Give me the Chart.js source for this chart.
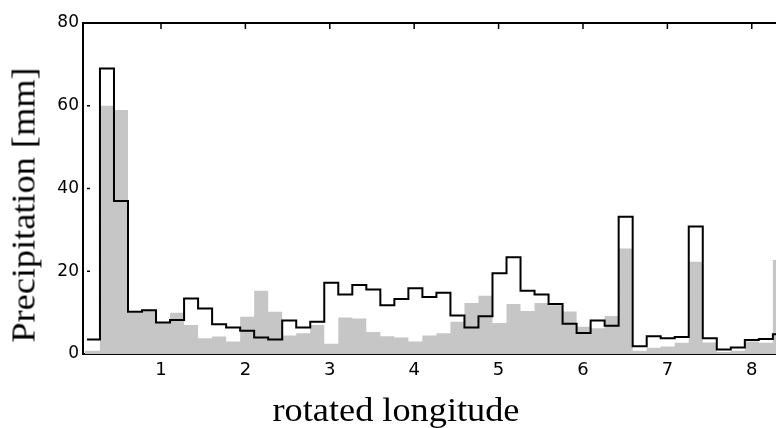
<!DOCTYPE html>
<html><head><meta charset="utf-8">
<script src="https://cdn.jsdelivr.net/npm/chart.js@4.4.1/dist/chart.umd.min.js"></script>
<style>
html,body{margin:0;padding:0;background:#fff;overflow:hidden;}
#wrap{position:relative;width:776px;height:428px;}
#c{position:absolute;left:0;top:0;}
.ttl{position:absolute;font-family:"Liberation Serif","Times New Roman",serif;font-size:33px;line-height:1;white-space:nowrap;color:#000;}
</style></head><body>
<div id="wrap">
<canvas id="c" width="776" height="428"></canvas>
<div class="ttl" id="xt" style="left:396px;top:394px;transform:translateX(-50%) scaleX(1.1)">rotated longitude</div>
<div class="ttl" id="yt" style="left:24px;top:205px;transform:translate(-50%,-50%) rotate(-90deg) scaleX(1.1)">Precipitation [mm]</div>
</div>
<script>
// x position (rotated longitude) of the left edge of the first full bin and bin width
const binStart = 0.277;
const binWidth = 0.1661;
// short leading bin before the first full bin
const blackLeadX = 0.123, blackLead = 3.5;
const grayLeadX = 0.100, grayLead = 0.8;

// black step line values per bin [mm]
const blackValues = [69, 37, 10.2, 10.6, 7.6, 8.2, 13.4, 11.0, 7.2, 6.4,
  5.6, 4.0, 3.5, 8.1, 6.4, 7.8, 17.2, 14.4, 16.7, 15.6,
  11.8, 13.3, 15.9, 13.8, 14.8, 9.3, 6.4, 9.1, 19.5, 23.4,
  15.3, 14.4, 12.1, 7.3, 5.1, 8.1, 6.8, 33.2, 1.9, 4.3,
  3.8, 4.1, 30.8, 3.8, 1.1, 1.6, 3.4, 3.6, 4.8];

// gray shaded values per bin [mm]
const grayValues = [60, 59, 10.0, 10.5, 7.5, 10.0, 7.0, 3.8, 4.2, 3.0,
  9.0, 15.3, 10.2, 4.5, 5.0, 7.0, 2.5, 8.8, 8.6, 5.3,
  4.3, 4.0, 3.0, 4.5, 5.0, 7.8, 12.3, 14.1, 7.5, 12.1,
  10.4, 12.3, 11.8, 10.3, 6.6, 6.2, 9.2, 25.5, 0.8, 1.5,
  1.8, 2.7, 22.3, 2.8, 0.5, 0.8, 3.0, 2.7, 22.7];

const xTicks = [1, 2, 3, 4, 5, 6, 7, 8];
const yTicks = [0, 20, 40, 60, 80];

function stepPoints(leadX, lead, values) {
  const pts = [{x: leadX, y: lead}];
  values.forEach((v, i) => pts.push({x: binStart + i * binWidth, y: v}));
  pts.push({x: binStart + values.length * binWidth, y: values[values.length - 1]});
  return pts;
}

const framePlugin = {
  id: 'frame',
  afterDatasetsDraw(chart) {
    const {ctx, chartArea: a, scales} = chart;
    ctx.save();
    ctx.strokeStyle = '#000';
    ctx.lineWidth = 2;
    ctx.beginPath();
    ctx.moveTo(a.left - 1, a.top);
    ctx.lineTo(a.right + 2, a.top);
    ctx.stroke();
    ctx.lineWidth = 1.5;
    xTicks.forEach(t => {
      const px = scales.x.getPixelForValue(t);
      ctx.beginPath();
      ctx.moveTo(px, a.top);
      ctx.lineTo(px, a.top + 6);
      ctx.stroke();
    });
    yTicks.slice(1, -1).forEach(t => {
      const py = scales.y.getPixelForValue(t);
      ctx.beginPath();
      ctx.moveTo(a.left + 4, py);
      ctx.lineTo(a.left + 7, py);
      ctx.stroke();
    });
    ctx.restore();
  }
};

new Chart(document.getElementById('c'), {
  type: 'line',
  data: {
    datasets: [
      {
        label: 'black',
        data: stepPoints(blackLeadX, blackLead, blackValues),
        stepped: 'before',
        borderColor: '#000',
        borderWidth: 2,
        pointRadius: 0,
        fill: false,
        order: 0
      },
      {
        label: 'gray',
        data: stepPoints(grayLeadX, grayLead, grayValues),
        stepped: 'before',
        borderColor: 'rgba(0,0,0,0)',
        borderWidth: 0,
        backgroundColor: '#c6c6c6',
        pointRadius: 0,
        fill: 'origin',
        order: 1
      }
    ]
  },
  options: {
    responsive: false,
    animation: false,
    devicePixelRatio: 1,
    layout: {padding: {top: 23, right: 0, left: 0, bottom: 0}},
    plugins: {legend: {display: false}, tooltip: {enabled: false}},
    scales: {
      x: {
        type: 'linear',
        min: 0.076,
        max: 8.287,
        grid: {display: false, drawTicks: false},
        border: {display: true, color: '#000', width: 2},
        afterBuildTicks(s) { s.ticks = xTicks.map(v => ({value: v})); },
        afterFit(s) { s.height = 74; },
        ticks: {
          color: '#000',
          padding: 6,
          maxRotation: 0,
          autoSkip: false,
          font: {family: '"DejaVu Sans", sans-serif', size: 18},
          callback: v => String(v)
        }
      },
      y: {
        min: 0,
        max: 80,
        grid: {display: false, drawTicks: false},
        border: {display: true, color: '#000', width: 2},
        afterBuildTicks(s) { s.ticks = yTicks.map(v => ({value: v})); },
        afterFit(s) { s.width = 83; },
        ticks: {
          color: '#000',
          padding: 4,
          font: {family: '"DejaVu Sans", sans-serif', size: 17},
          callback: v => String(v)
        }
      }
    }
  },
  plugins: [framePlugin]
});
</script>
</body></html>
